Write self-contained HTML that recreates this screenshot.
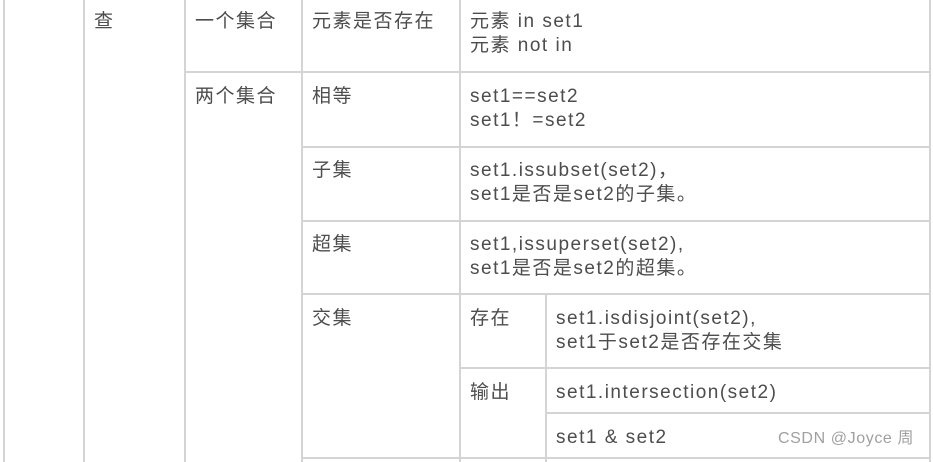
<!DOCTYPE html>
<html><head><meta charset="utf-8"><style>
body{margin:0;width:933px;height:462px;background:#fff;position:relative;overflow:hidden;font-family:"Liberation Sans","Noto Sans CJK SC",sans-serif;font-size:19px;letter-spacing:1.5px;color:#4d4d4d}
.v,.h{position:absolute;background:#d4d4d4}
.v{width:2px}.h{height:2px}
.t{position:absolute;line-height:24px;white-space:nowrap}
</style></head><body>
<div class="v" style="left:3px;top:0;height:462px"></div>
<div class="v" style="left:83px;top:0;height:462px"></div>
<div class="v" style="left:184px;top:0;height:462px"></div>
<div class="v" style="left:301px;top:0;height:462px"></div>
<div class="v" style="left:459px;top:0;height:462px"></div>
<div class="v" style="left:545px;top:294px;height:168px"></div>
<div class="v" style="left:929px;top:0;height:462px"></div>
<div class="h" style="left:184px;top:71px;width:747px"></div>
<div class="h" style="left:301px;top:146px;width:630px"></div>
<div class="h" style="left:301px;top:220px;width:630px"></div>
<div class="h" style="left:301px;top:293px;width:630px"></div>
<div class="h" style="left:459px;top:367px;width:472px"></div>
<div class="h" style="left:545px;top:412px;width:386px"></div>
<div class="h" style="left:301px;top:457px;width:630px"></div>

<div class="t" style="left:94px;top:10px">查</div>
<div class="t" style="left:195px;top:10px">一个集合</div>
<div class="t" style="left:312px;top:10px">元素是否存在</div>
<div class="t" style="left:470px;top:10px">元素 in set1<br>元素 not in</div>
<div class="t" style="left:195px;top:85px">两个集合</div>
<div class="t" style="left:312px;top:85px">相等</div>
<div class="t" style="left:470px;top:85px">set1==set2<br>set1！=set2</div>
<div class="t" style="left:312px;top:159px">子集</div>
<div class="t" style="left:470px;top:159px">set1.issubset(set2)，<br>set1是否是set2的子集。</div>
<div class="t" style="left:312px;top:233px">超集</div>
<div class="t" style="left:470px;top:233px">set1,issuperset(set2),<br>set1是否是set2的超集。</div>
<div class="t" style="left:312px;top:307px">交集</div>
<div class="t" style="left:470px;top:307px">存在</div>
<div class="t" style="left:556px;top:307px">set1.isdisjoint(set2),<br>set1于set2是否存在交集</div>
<div class="t" style="left:470px;top:381px">输出</div>
<div class="t" style="left:556px;top:381px">set1.intersection(set2)</div>
<div class="t" style="left:556px;top:426px">set1 &amp; set2</div>
<div class="t" style="left:778px;top:427px;font-size:16px;letter-spacing:0.6px;color:#a0a0a0">CSDN @Joyce 周</div>
</body></html>
